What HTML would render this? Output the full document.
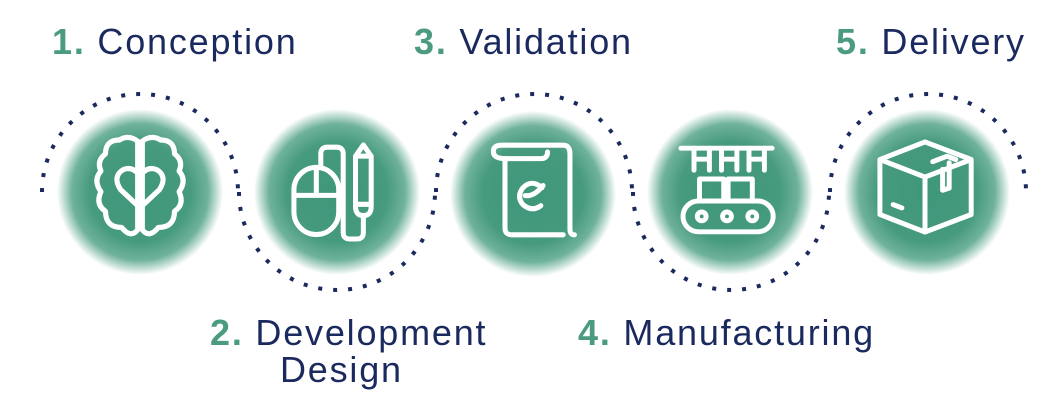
<!DOCTYPE html>
<html><head><meta charset="utf-8"><style>
html,body{margin:0;padding:0;background:#fff;}
body{width:1060px;height:406px;overflow:hidden;position:relative;font-family:"Liberation Sans",sans-serif;}
.t{position:absolute;font-size:36px;letter-spacing:1.8px;color:#1b2a5e;white-space:nowrap;line-height:1;}
.t b{color:#4a9b80;font-weight:bold;}
</style></head><body>
<svg width="1060" height="406" style="position:absolute;left:0;top:0">
<defs>
<radialGradient id="g" cx="50%" cy="50%" r="50%">
<stop offset="0" stop-color="#3f977a"/>
<stop offset="0.6" stop-color="#469a7e"/>
<stop offset="0.82" stop-color="#6fb29b"/>
<stop offset="1" stop-color="#ffffff"/>
</radialGradient>
</defs>
<g fill="none" stroke="#1b2a5e" stroke-width="4" stroke-dasharray="4 11">
<path d="M42,192 A98,98 0 0 1 238,192"/>
<path d="M239,192 A98,98 0 0 0 435,192"/>
<path d="M436,192 A98,98 0 0 1 632,192"/>
<path d="M633,192 A98,98 0 0 0 829,192"/>
<path d="M830,192 A98,98 0 0 1 1026,192"/>
</g>
<circle cx="140" cy="192" r="83" fill="url(#g)"/>
<circle cx="337" cy="192" r="83" fill="url(#g)"/>
<circle cx="533" cy="194" r="83" fill="url(#g)"/>
<circle cx="730" cy="192" r="83" fill="url(#g)"/>
<circle cx="927" cy="192" r="83" fill="url(#g)"/>
<g fill="none" stroke="#fff" stroke-width="4.5" stroke-linecap="round" stroke-linejoin="round">
<g transform="translate(140,186) scale(1.15) translate(-140,-186)">
<path d="M138,147 Q130,141 122,146 Q110,146 110,158 Q102,164 106,173 Q99,181 106,191 Q101,202 110,208 Q110,222 124,222 Q132,232 138,224 Z"/>
<path d="M142,147 Q150,141 158,146 Q170,146 170,158 Q178,164 174,173 Q181,181 174,191 Q179,202 170,208 Q170,222 156,222 Q148,232 142,224 Z"/>
<path d="M140,205 L123,189 Q116,178 125,172 Q133,168 140,177 Q147,168 155,172 Q164,178 157,189 Z"/>
</g>
<g transform="translate(332,192) scale(1.12) translate(-332,-192)">
<rect x="298" y="170" width="40" height="60" rx="20"/>
<path d="M298,195 H338 M318,170 V195"/>
<path d="M322,170 V158 Q322,152 328,152 H336 Q342,152 342,158 V228 Q342,234 348,234 H354 Q360,234 360,228 V215"/>
<path d="M353,160 L360,150 L367,160 V205 Q367,213 360,213 Q353,213 353,205 Z M353,160 H367 M353,203 H367"/>
</g>
<g transform="translate(533,190) scale(1.12) translate(-533,-190)">
<path d="M505,150 H560 Q566,150 566,158 V225 Q566,230 570,230 M505,150 Q496,150 498,158 Q500,162 508,162 V224 Q508,230 514,230 H560"/>
<path d="M508,162 H540 Q546,162 546,156"/>
<path d="M541,188 Q532,180 524,188 Q518,196 524,203 Q532,210 540,204 M526,195 Q534,196 542,186"/>
</g>
<g transform="translate(727,190) scale(1.1) translate(-727,-190)">
<path d="M685,152 H768"/>
<path d="M697,152 V172 M711,152 V172 M697,162 H711 M722,152 V172 M736,152 V172 M722,162 H736 M747,152 V172 M761,152 V172 M747,162 H761"/>
<rect x="702" y="180" width="22" height="20"/><rect x="728" y="180" width="22" height="20"/>
<rect x="687" y="200" width="82" height="28" rx="14"/>
<circle cx="704" cy="214" r="4"/><circle cx="727" cy="214" r="4"/><circle cx="750" cy="214" r="4"/>
</g>
<g transform="translate(925,187) scale(1.1) translate(-925,-187)">
<path d="M925,146 L967,162 V212 L925,228 L884,212 V162 Z M884,162 L925,178 L967,162 M925,178 V228"/>
<path d="M941,171 V190 L947,188 V165 M932,164 L945,159 L953,162"/>
<path d="M896,203 L904,206"/>
</g>
</g>
</svg>
<div class="t" style="left:52px;top:24px"><b>1.</b> Conception</div>
<div class="t" style="left:414px;top:24px"><b>3.</b> Validation</div>
<div class="t" style="left:836px;top:24px"><b>5.</b> Delivery</div>
<div class="t" style="left:210px;top:315px"><b>2.</b> Development</div>
<div class="t" style="left:280px;top:352px">Design</div>
<div class="t" style="left:578px;top:315px"><b>4.</b> Manufacturing</div>
</body></html>
